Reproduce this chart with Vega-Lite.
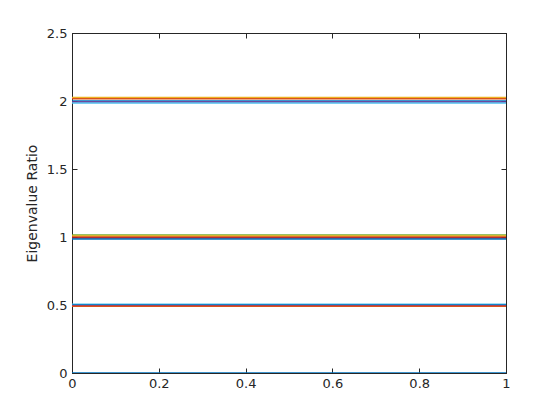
{
  "$schema": "https://vega.github.io/schema/vega-lite/v6.json",
  "width": 434,
  "height": 340,
  "autosize": {"type": "none"},
  "padding": {"left": 72, "top": 33, "right": 54, "bottom": 47},
  "background": "white",
  "config": {
    "view": {"stroke": "#262626", "strokeWidth": 1},
    "axis": {
      "domainColor": "#262626",
      "tickColor": "#262626",
      "labelColor": "#262626",
      "titleColor": "#262626",
      "labelFont": "DejaVu Sans",
      "titleFont": "DejaVu Sans",
      "labelFontSize": 13,
      "titleFontSize": 14,
      "titleFontWeight": "normal",
      "grid": false,
      "tickSize": -5,
      "labelFlush": false,
      "labelPadding": 10
    }
  },
  "data": {
    "values": [
      {"x": 0, "y": 0, "s": "a0"}, {"x": 1, "y": 0, "s": "a0"},
      {"x": 0, "y": 0.505, "s": "b6"}, {"x": 1, "y": 0.505, "s": "b6"},
      {"x": 0, "y": 0.5, "s": "b1"}, {"x": 1, "y": 0.5, "s": "b1"},
      {"x": 0, "y": 0.495, "s": "b4"}, {"x": 1, "y": 0.495, "s": "b4"},
      {"x": 0, "y": 0.49, "s": "b2"}, {"x": 1, "y": 0.49, "s": "b2"},
      {"x": 0, "y": 1.015, "s": "c5"}, {"x": 1, "y": 1.015, "s": "c5"},
      {"x": 0, "y": 1.008, "s": "c3"}, {"x": 1, "y": 1.008, "s": "c3"},
      {"x": 0, "y": 1.0, "s": "c2"}, {"x": 1, "y": 1.0, "s": "c2"},
      {"x": 0, "y": 0.993, "s": "c7"}, {"x": 1, "y": 0.993, "s": "c7"},
      {"x": 0, "y": 0.985, "s": "c1"}, {"x": 1, "y": 0.985, "s": "c1"},
      {"x": 0, "y": 2.025, "s": "d3"}, {"x": 1, "y": 2.025, "s": "d3"},
      {"x": 0, "y": 2.017, "s": "d2"}, {"x": 1, "y": 2.017, "s": "d2"},
      {"x": 0, "y": 2.0, "s": "d1"}, {"x": 1, "y": 2.0, "s": "d1"},
      {"x": 0, "y": 1.993, "s": "d4"}, {"x": 1, "y": 1.993, "s": "d4"},
      {"x": 0, "y": 1.985, "s": "d6"}, {"x": 1, "y": 1.985, "s": "d6"}
    ]
  },
  "layer": [
    {
      "mark": {"type": "line", "strokeWidth": 1.5, "clip": true},
      "encoding": {
        "x": {"field": "x", "type": "quantitative", "scale": {"domain": [0, 1], "nice": false},
              "axis": {"title": null, "values": [0, 0.2, 0.4, 0.6, 0.8, 1], "format": "~g", "orient": "bottom", "labelPadding": 9}},
        "y": {"field": "y", "type": "quantitative", "scale": {"domain": [0, 2.5], "nice": false},
              "axis": {"title": "Eigenvalue Ratio", "values": [0, 0.5, 1, 1.5, 2, 2.5], "format": "~g", "orient": "left", "labelPadding": 10, "titlePadding": 7}},
        "detail": {"field": "s"},
        "color": {
          "field": "s", "type": "nominal", "legend": null,
          "scale": {
            "domain": ["a0", "b6", "b1", "b4", "b2", "c5", "c3", "c2", "c7", "c1", "d3", "d2", "d1", "d4", "d6"],
            "range": ["#0072BD", "#4DBEEE", "#0072BD", "#7E2F8E", "#D95319", "#77AC30", "#EDB120", "#D95319", "#A2142F", "#0072BD", "#EDB120", "#D95319", "#0072BD", "#7E2F8E", "#4DBEEE"]
          }
        }
      }
    },
    {
      "mark": {"type": "point", "opacity": 0},
      "encoding": {
        "x": {"field": "x", "type": "quantitative",
              "axis": {"title": null, "values": [0, 0.2, 0.4, 0.6, 0.8, 1], "labels": false, "orient": "top"}},
        "y": {"field": "y", "type": "quantitative",
              "axis": {"title": null, "values": [0, 0.5, 1, 1.5, 2, 2.5], "labels": false, "orient": "right"}}
      }
    }
  ],
  "resolve": {"axis": {"x": "independent", "y": "independent"}}
}
